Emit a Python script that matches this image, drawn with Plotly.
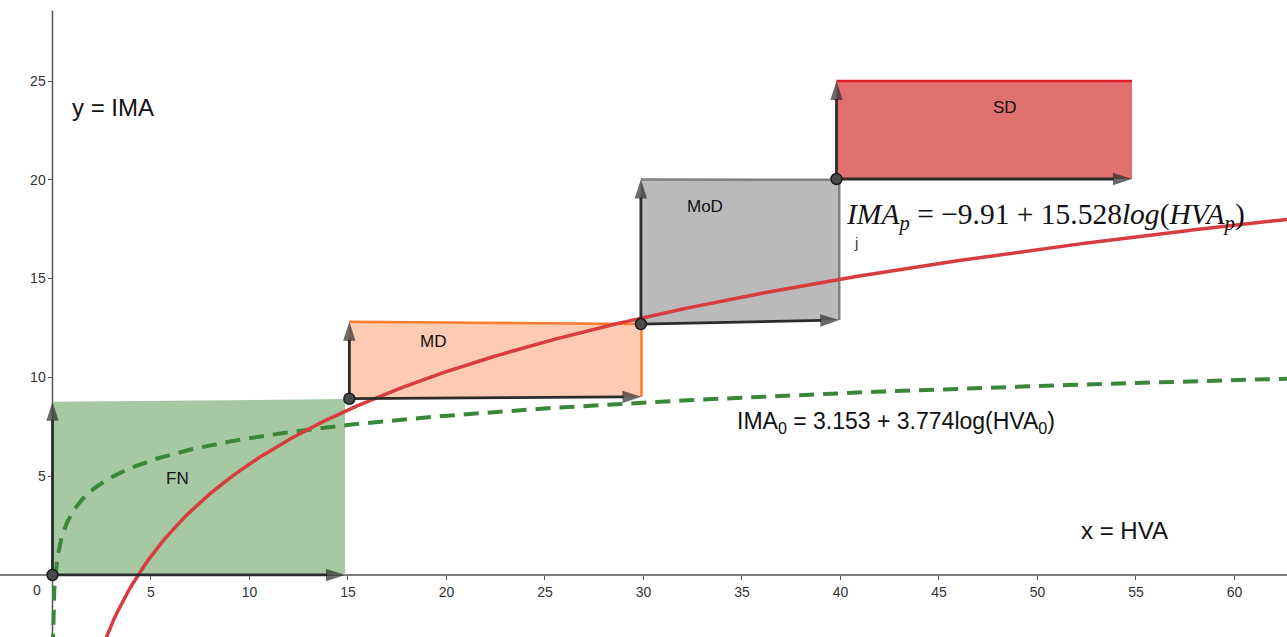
import numpy as np
import plotly.graph_objects as go

# Severity stages: rectangles spanned by the two arrows from each stage's corner point
stage_names = ["FN", "MD", "MoD", "SD"]
stage_x0 = [0.0, 15.07, 29.87, 39.8]
stage_x1 = [14.85, 29.9, 39.94, 54.8]
stage_base_left = [0.0, 8.92, 12.70, 20.04]
stage_base_right = [0.0, 9.02, 12.90, 20.04]
stage_top_left = [8.77, 12.82, 20.02, 25.0]
stage_top_right = [8.9, 12.70, 20.0, 25.0]
stage_label_x = [6.37, 19.3, 33.1, 48.35]
stage_label_y = [4.9, 11.84, 18.67, 23.68]

# Regression coefficients: IMA = a + b*log10(HVA)
ima0_a, ima0_b = 3.153, 3.774
imap_a, imap_b = -9.91, 15.528

x_ticks = [5, 10, 15, 20, 25, 30, 35, 40, 45, 50, 55, 60]
y_ticks = [5, 10, 15, 20, 25]

X_RANGE = [-2.665, 62.67]
Y_RANGE = [-3.14, 29.10]

fill_colors = ["rgb(166,201,164)", "rgb(253,202,178)", "rgb(186,186,186)", "rgb(225,113,113)"]
edge_colors = [None, "rgb(255,125,45)", "rgb(128,128,128)", "rgb(222,30,40)"]
ARROW = "#2b2b2b"

fig = go.Figure()

# filled stage regions
for i, name in enumerate(stage_names):
    xs = [stage_x0[i], stage_x1[i], stage_x1[i], stage_x0[i], stage_x0[i]]
    ys = [stage_base_left[i], stage_base_right[i], stage_top_right[i], stage_top_left[i], stage_base_left[i]]
    fig.add_trace(go.Scatter(x=xs, y=ys, mode="lines", fill="toself",
                             fillcolor=fill_colors[i], line=dict(width=0),
                             hoverinfo="skip", showlegend=False))
    if edge_colors[i]:
        if name == "SD":
            ex = [stage_x0[i], stage_x1[i]]
            ey = [stage_top_left[i], stage_top_right[i]]
        else:
            ex = [stage_x0[i], stage_x1[i], stage_x1[i]]
            ey = [stage_top_left[i], stage_top_right[i], stage_base_right[i]]
        fig.add_trace(go.Scatter(x=ex, y=ey, mode="lines",
                                 line=dict(color=edge_colors[i], width=2.5),
                                 hoverinfo="skip", showlegend=False))

# axis lines
fig.add_shape(type="line", x0=X_RANGE[0], x1=X_RANGE[1], y0=0, y1=0,
              line=dict(color="#555555", width=1.5), layer="below")
fig.add_shape(type="line", x0=0, x1=0, y0=Y_RANGE[0], y1=28.55,
              line=dict(color="#555555", width=1.5), layer="below")

# regression curves
hva_0 = np.concatenate([np.geomspace(0.015, 2, 150), np.linspace(2, X_RANGE[1], 300)])
fig.add_trace(go.Scatter(x=hva_0, y=ima0_a + ima0_b * np.log10(hva_0), mode="lines",
                         line=dict(color="rgb(58,135,58)", width=4, dash="15px,9px"),
                         hoverinfo="skip", showlegend=False))
hva_p = np.linspace(2.5, X_RANGE[1], 400)
fig.add_trace(go.Scatter(x=hva_p, y=imap_a + imap_b * np.log10(hva_p), mode="lines",
                         line=dict(color="rgb(216,60,60)", width=3.5),
                         hoverinfo="skip", showlegend=False))

# arrows from each stage corner
for i in range(len(stage_names)):
    for tx, ty in [(stage_x0[i], stage_top_left[i]), (stage_x1[i], stage_base_right[i])]:
        fig.add_trace(go.Scatter(
            x=[stage_x0[i], tx], y=[stage_base_left[i], ty], mode="lines+markers",
            line=dict(color=ARROW, width=2.8),
            marker=dict(symbol="arrow", size=[0, 20], color=ARROW, angleref="previous",
                        line=dict(width=0)),
            hoverinfo="skip", showlegend=False))

# stage corner points
fig.add_trace(go.Scatter(x=stage_x0, y=stage_base_left, mode="markers",
                         marker=dict(size=11, color="#4a4a4a", line=dict(color="#1a1a1a", width=1.5)),
                         hoverinfo="skip", showlegend=False))

sans = "Liberation Sans, Arial, sans-serif"
for i, name in enumerate(stage_names):
    fig.add_annotation(x=stage_label_x[i], y=stage_label_y[i], text=name, showarrow=False,
                       font=dict(family=sans, size=17, color="#111111"))

fig.add_annotation(x=3.07, y=23.68, text="y = IMA", showarrow=False,
                   font=dict(family=sans, size=24, color="#111111"))
fig.add_annotation(x=54.4, y=2.23, text="x = HVA", showarrow=False,
                   font=dict(family=sans, size=24, color="#111111"))
fig.add_annotation(x=34.64, y=7.74, xanchor="left",
                   text="IMA<sub>0</sub> = 3.153 + 3.774log(HVA<sub>0</sub>)", showarrow=False,
                   font=dict(family=sans, size=23, color="#111111"))
fig.add_annotation(x=40.2, y=18.15, xanchor="left",
                   text="<i>IMA<sub>p</sub></i> = −9.91 + 15.528<i>log</i>(<i>HVA<sub>p</sub></i>)",
                   showarrow=False,
                   font=dict(family="Liberation Serif, DejaVu Serif, serif", size=29.5, color="#111111"))
fig.add_annotation(x=40.8, y=16.85, text="j", showarrow=False,
                   font=dict(family=sans, size=15, color="#333333"))
fig.add_annotation(x=-0.77, y=-0.78, text="0", showarrow=False,
                   font=dict(family=sans, size=14, color="#333333"))

x_pos = (0 - Y_RANGE[0]) / (Y_RANGE[1] - Y_RANGE[0])
y_pos = (0 - X_RANGE[0]) / (X_RANGE[1] - X_RANGE[0])

fig.update_layout(
    width=1287, height=637, margin=dict(l=0, r=0, t=0, b=0),
    paper_bgcolor="white", plot_bgcolor="white", showlegend=False,
    xaxis=dict(range=X_RANGE, anchor="free", position=x_pos, showgrid=False, zeroline=False,
               showline=False, tickvals=x_ticks, ticktext=[str(v) for v in x_ticks],
               ticks="outside", ticklen=4, tickcolor="#555555", tickwidth=1.2,
               tickfont=dict(family=sans, size=14, color="#333333")),
    yaxis=dict(range=Y_RANGE, anchor="free", position=y_pos, showgrid=False, zeroline=False,
               showline=False, tickvals=y_ticks, ticktext=[str(v) for v in y_ticks],
               ticks="outside", ticklen=4, tickcolor="#555555", tickwidth=1.2,
               tickfont=dict(family=sans, size=14, color="#333333")),
)

fig.write_html("out.html")
